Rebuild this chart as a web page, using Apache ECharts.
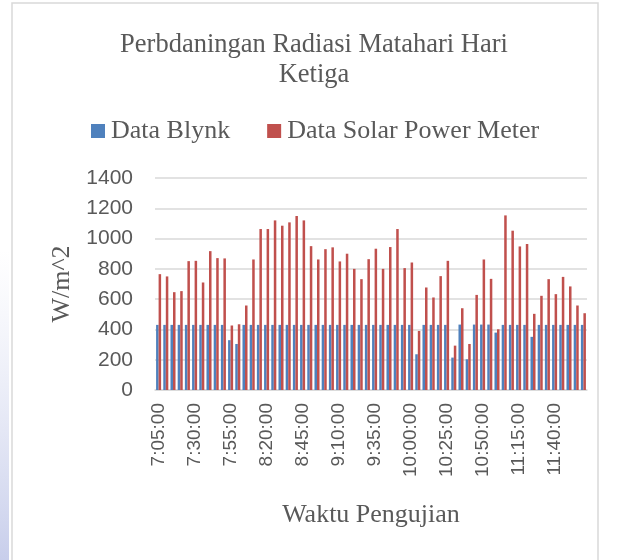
<!DOCTYPE html>
<html>
<head>
    <meta charset="UTF-8">
    <title>Perbdaningan Radiasi Matahari Hari Ketiga</title>
    <script src="https://cdn.jsdelivr.net/npm/echarts@6/dist/echarts.min.js"></script>
    <style>
        html, body {
            margin: 0;
            padding: 0;
            background: #ffffff;
        }

        #chartContainer {
            width: 617px;
            height: 560px;
        }
    </style>
</head>
<body>
<div id="chartContainer"></div>
<script>
    // waktu pengujian, tiap 5 menit
    var waktu = [
        '7:05:00', '7:10:00', '7:15:00', '7:20:00', '7:25:00', '7:30:00', '7:35:00', '7:40:00', '7:45:00', '7:50:00',
        '7:55:00', '8:00:00', '8:05:00', '8:10:00', '8:15:00', '8:20:00', '8:25:00', '8:30:00', '8:35:00', '8:40:00',
        '8:45:00', '8:50:00', '8:55:00', '9:00:00', '9:05:00', '9:10:00', '9:15:00', '9:20:00', '9:25:00', '9:30:00',
        '9:35:00', '9:40:00', '9:45:00', '9:50:00', '9:55:00', '10:00:00', '10:05:00', '10:10:00', '10:15:00', '10:20:00',
        '10:25:00', '10:30:00', '10:35:00', '10:40:00', '10:45:00', '10:50:00', '10:55:00', '11:00:00', '11:05:00', '11:10:00',
        '11:15:00', '11:20:00', '11:25:00', '11:30:00', '11:35:00', '11:40:00', '11:45:00', '11:50:00', '11:55:00', '12:00:00'
    ];

    var dataBlynk = [
        430, 430, 430, 430, 430, 430, 430, 430, 430, 430,
        329, 304, 430, 430, 430, 430, 430, 430, 430, 430,
        430, 430, 430, 430, 430, 430, 430, 430, 430, 430,
        430, 430, 430, 430, 430, 430, 236, 430, 430, 430,
        430, 214, 432, 203, 432, 432, 432, 379, 430, 430,
        430, 430, 351, 430, 430, 430, 430, 430, 430, 430
    ];

    var dataSolarPowerMeter = [
        765, 750, 646, 653, 851, 853, 710, 917, 871, 869,
        426, 434, 558, 862, 1063, 1063, 1120, 1085, 1107, 1149,
        1120, 950, 862, 930, 942, 849, 900, 800, 732, 864,
        933, 800, 944, 1063, 805, 842, 390, 677, 611, 752,
        853, 293, 540, 304, 628, 862, 734, 401, 1153, 1052,
        948, 964, 503, 622, 732, 633, 747, 684, 558, 507
    ];

    var serif = '"Liberation Serif", "Times New Roman", serif';
    var sans = '"Liberation Sans", Arial, sans-serif';
    var abu = '#595959';

    function drawBarChart() {
        var myChart = echarts.init(document.getElementById('chartContainer'));
        var option = {
            backgroundColor: '#ffffff',
            animation: false,
            title: {
                text: 'Perbdaningan Radiasi Matahari Hari\nKetiga',
                left: 309,
                top: 25,
                textAlign: 'center',
                textStyle: {
                    fontFamily: serif,
                    fontSize: 26.5,
                    fontWeight: 'normal',
                    color: abu,
                    lineHeight: 30
                }
            },
            legend: {
                left: 86,
                top: 113,
                itemWidth: 14,
                itemHeight: 14,
                itemGap: 37,
                icon: 'rect',
                textStyle: {
                    fontFamily: serif,
                    fontSize: 26,
                    color: abu,
                    padding: [0, 0, 0, 1]
                },
                data: ['Data Blynk', 'Data Solar Power Meter']
            },
            grid: {
                left: 155,
                right: 30,
                top: 178,
                bottom: 170
            },
            xAxis: {
                type: 'category',
                data: waktu,
                name: 'Waktu Pengujian',
                nameLocation: 'middle',
                nameGap: 112,
                nameTextStyle: {
                    fontFamily: serif,
                    fontSize: 26,
                    color: abu
                },
                axisLine: {lineStyle: {color: '#d9d9d9', width: 1.5}},
                axisTick: {show: false},
                axisLabel: {
                    interval: 4,
                    rotate: 90,
                    margin: 13,
                    fontFamily: sans,
                    fontSize: 19,
                    color: abu
                }
            },
            yAxis: {
                type: 'value',
                min: 0,
                max: 1400,
                interval: 200,
                name: 'W/m^2',
                nameLocation: 'middle',
                nameGap: 80,
                nameTextStyle: {
                    fontFamily: serif,
                    fontSize: 26,
                    color: abu
                },
                axisLine: {show: false},
                axisTick: {show: false},
                axisLabel: {
                    margin: 22,
                    fontFamily: sans,
                    fontSize: 21,
                    color: abu,
                    formatter: function (v) {
                        return String(v);
                    }
                },
                splitLine: {lineStyle: {color: '#d9d9d9', width: 1.5}}
            },
            graphic: [{
                type: 'rect',
                shape: {x: 12, y: 3, width: 586, height: 570},
                style: {fill: 'none', stroke: '#d9d9d9', lineWidth: 1.5},
                silent: true
            }, {
                type: 'rect',
                shape: {x: 0, y: 250, width: 9, height: 310},
                style: {
                    fill: new echarts.graphic.LinearGradient(0, 0, 0, 1, [
                        {offset: 0, color: 'rgba(220,224,242,0)'},
                        {offset: 1, color: 'rgba(200,206,235,1)'}
                    ])
                },
                silent: true
            }],
            series: [{
                name: 'Data Blynk',
                type: 'bar',
                data: dataBlynk,
                barGap: '0%',
                barCategoryGap: '30%',
                itemStyle: {color: '#4f81bd'}
            }, {
                name: 'Data Solar Power Meter',
                type: 'bar',
                data: dataSolarPowerMeter,
                barGap: '0%',
                barCategoryGap: '30%',
                itemStyle: {color: '#c0504d'}
            }]
        };
        myChart.setOption(option);
    }

    window.onload = function () {
        drawBarChart();
    };
</script>
</body>
</html>
